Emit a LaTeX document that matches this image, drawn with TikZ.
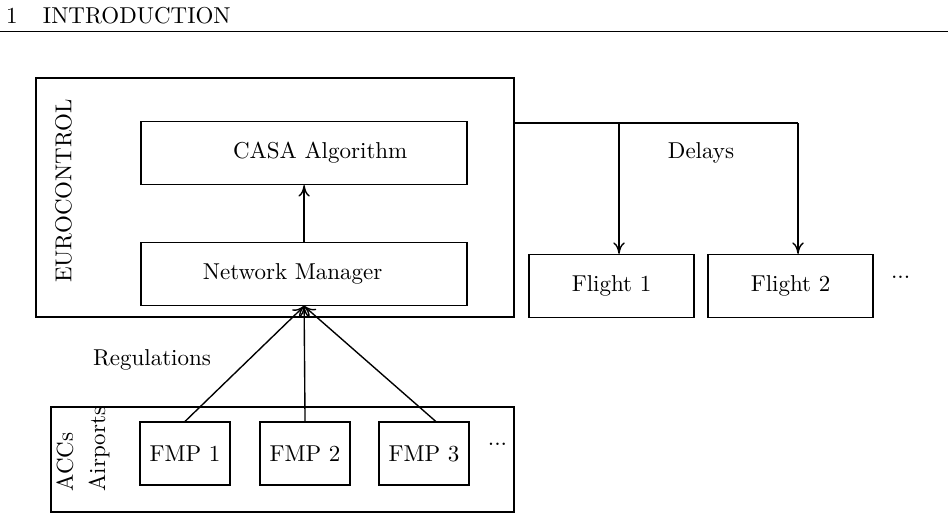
\documentclass[tikz,border=0pt]{standalone}
\usetikzlibrary{arrows.meta}

\begin{document}
\begin{tikzpicture}[-,auto,semithick,>={To[length=5pt,width=5pt]},
  box node/.style={rectangle,draw,minimum height=0.96cm},
  frame node/.style={rectangle,draw}]
  \useasboundingbox (0, 0) rectangle (14.495, 7.936);
  % running head
  \node[anchor=base west, inner sep=0] (head) at (0.084, 7.58) {1\hspace{1.1em}INTRODUCTION};
  \draw[thin] (0, 7.462) -- (14.495, 7.462);
  % frames
  \node[frame node, minimum width=7.309cm, minimum height=3.654cm] (euro) at (4.205, 4.916) {};
  \node[frame node, minimum width=7.08cm, minimum height=1.606cm] (accs) at (4.32, 0.91) {};
  \node[rotate=90] (eurolabel) at (0.971, 5.015) {EUROCONTROL};
  \node[rotate=90, align=left, anchor=north west, inner sep=0] (accslabel) at (0.852, 0.413) {ACCs\\[2pt]Airports};
  % boxes
  \node[box node, minimum width=4.985cm] (casa) at (4.65, 5.596) {\hspace*{14pt}CASA Algorithm};
  \node[box node, minimum width=4.985cm] (nm) at (4.65, 3.746) {Network Manager\hspace*{10pt}};
  \node[box node, minimum width=2.523cm] (fl1) at (9.35, 3.563) {Flight 1};
  \node[box node, minimum width=2.523cm] (fl2) at (12.087, 3.563) {Flight 2};
  \node (fldots) at (13.77, 3.7) {...};
  \node[box node, minimum width=1.376cm] (fmp1) at (2.829, 1.002) {FMP 1};
  \node[box node, minimum width=1.376cm] (fmp2) at (4.664, 1.002) {FMP 2};
  \node[box node, minimum width=1.376cm] (fmp3) at (6.483, 1.002) {FMP 3};
  \node (fmpdots) at (7.607, 1.147) {...};
  \node (delays) at (10.719, 5.596) {Delays};
  \node (regs) at (2.324, 2.431) {Regulations};
  \coordinate (d1) at (9.465, 6.055);
  \coordinate (d2) at (12.202, 6.055);
  \path[->]
    (nm) edge (casa)
    (fmp1.north) edge (nm.south)
    (fmp2.north) edge (nm.south)
    ([xshift=0.18cm]fmp3.north) edge (nm.south)
    (d1) edge (d1 |- fl1.north)
    (d2) edge (d2 |- fl2.north);
  \draw (euro.east |- d1) -- (d2);
\end{tikzpicture}
\end{document}
